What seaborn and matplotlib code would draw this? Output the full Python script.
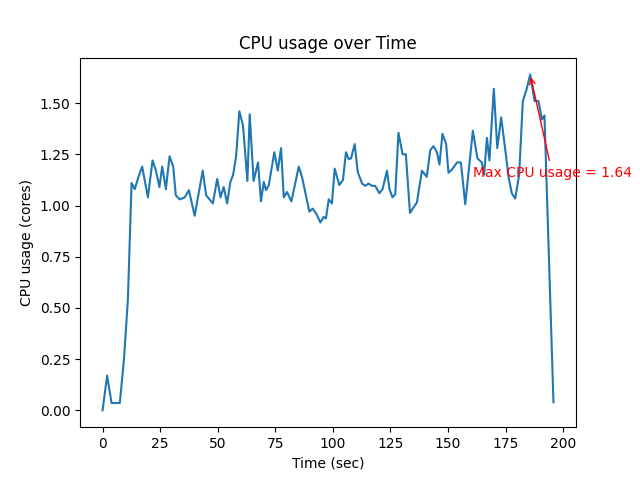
import pandas as pd
import matplotlib
matplotlib.use("Agg")
import matplotlib.pyplot as plt
import seaborn as sns

time_sec = [0, 2.0, 3.9, 5.7, 7.5, 9.3, 11.0, 12.6, 14.0, 15.6, 17.2, 19.7, 21.7, 23.2,
            24.7, 25.9, 27.5, 29.1, 30.7, 31.8, 33.5, 35.7, 37.5, 40.0, 43.5, 45.0,
            47.9, 49.8, 51.2, 52.6, 54.1, 55.5, 56.7, 58.0, 59.4, 61.0, 62.9, 63.9,
            65.6, 67.5, 68.8, 70.0, 71.0, 72.2, 74.6, 76.1, 77.5, 78.7, 80.1, 82.0,
            85.2, 86.6, 89.8, 91.2, 92.8, 94.6, 96.0, 97.0, 98.2, 99.6, 100.8, 102.8,
            104.4, 105.7, 106.9, 107.9, 109.5, 110.8, 112.7, 114.1, 115.5, 117.0,
            118.4, 120.2, 121.6, 123.5, 124.6, 125.9, 127.1, 128.5, 130.3, 131.7,
            133.5, 135.0, 136.5, 138.7, 140.8, 142.3, 143.7, 145.2, 146.3, 147.6,
            149.2, 150.2, 151.7, 153.9, 155.6, 157.5, 160.8, 162.8, 164.7, 165.7,
            166.9, 168.0, 169.9, 171.4, 173.1, 174.8, 176.3, 177.7, 179.2, 180.9,
            182.5, 184.2, 185.7, 187.6, 189.3, 190.8, 191.9, 195.8]
cpu_cores = [0.0, 0.17, 0.036, 0.036, 0.036, 0.25, 0.54, 1.11, 1.08, 1.14, 1.19, 1.04, 1.22, 1.17,
             1.09, 1.19, 1.08, 1.24, 1.19, 1.05, 1.03, 1.04, 1.075, 0.95, 1.17, 1.05,
             1.01, 1.13, 1.04, 1.09, 1.01, 1.115, 1.15, 1.24, 1.46, 1.39, 1.12, 1.445,
             1.12, 1.21, 1.02, 1.115, 1.075, 1.10, 1.26, 1.17, 1.28, 1.04, 1.066, 1.02,
             1.19, 1.14, 0.97, 0.985, 0.96, 0.917, 0.944, 0.937, 1.03, 1.01, 1.18, 1.10,
             1.125, 1.26, 1.226, 1.23, 1.30, 1.164, 1.107, 1.096, 1.107, 1.096,
             1.096, 1.06, 1.08, 1.17, 1.08, 1.04, 1.055, 1.355, 1.25, 1.25,
             0.964, 0.99, 1.015, 1.17, 1.14, 1.27, 1.29, 1.26, 1.20, 1.35,
             1.30, 1.16, 1.175, 1.21, 1.21, 1.006, 1.365, 1.23, 1.21, 1.15,
             1.33, 1.22, 1.57, 1.28, 1.43, 1.28, 1.14, 1.06, 1.034, 1.15,
             1.51, 1.57, 1.64, 1.51, 1.51, 1.42, 1.44, 0.04]


def main():
    df = pd.DataFrame({'Time': time_sec, 'CPU': cpu_cores})

    fig, ax = plt.subplots(figsize=(6.4, 4.8), dpi=100)
    sns.lineplot(x='Time', y='CPU', data=df, ax=ax)

    i = df['CPU'].idxmax()
    t_max = df.loc[i, 'Time']
    c_max = df.loc[i, 'CPU']
    ax.annotate(f"Max CPU usage = {c_max:.2f}", xy=(t_max, c_max),
                xytext=(t_max - 25, c_max - 0.5), color='red',
                arrowprops=dict(arrowstyle='->', color='red'))

    ax.set_title("CPU usage over Time")
    ax.set_xlabel("Time (sec)")
    ax.set_ylabel("CPU usage (cores)")
    plt.savefig("out.png")


if __name__ == '__main__':
    main()
